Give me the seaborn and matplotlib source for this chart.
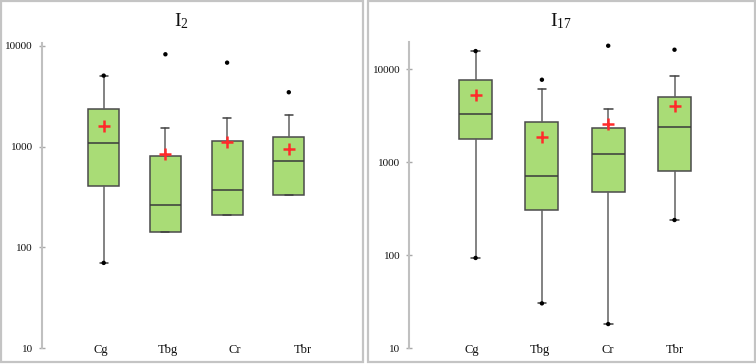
import numpy as np
import seaborn as sns
import matplotlib.pyplot as plt
from matplotlib.patches import Rectangle
from matplotlib.ticker import FixedLocator, FuncFormatter, NullLocator

# categorias
grupos = ["Cg", "Tbg", "Cr", "Tbr"]

# I2: estadisticos
i2_min = [70, 143, 211, 329]
i2_q1 = [404, 143, 211, 329]
i2_med = [1096, 261, 374, 721]
i2_q3 = [2380, 807, 1148, 1257]
i2_max = [5070, 1546, 1928, 2080]
i2_media = [1592, 851, 1122, 942]
i2_atipicos = [[], [8260], [6820], [3467]]

# I17
i17_min = [93, 30.2, 18.1, 238]
i17_q1 = [1754, 302, 472, 800]
i17_med = [3311, 706, 1220, 2361]
i17_q3 = [7550, 2674, 2339, 5000]
i17_max = [15620, 6150, 3714, 8480]
i17_media = [5250, 1873, 2540, 4000]
i17_atipicos = [[], [7680], [17820], [16150]]

W, H = 756, 364
sns.set_style("white")
plt.rcParams['font.family'] = ['Liberation Serif', 'DejaVu Serif']
plt.rcParams['mathtext.fontset'] = 'stix'

fig = plt.figure(figsize=(W / 100, H / 100), dpi=100)


def caja(rect, titulo, tcx, mn, q1, med, q3, mx, media, atip, ytop, paso_etq):
    x0, y0, x1, y1 = rect
    ax = fig.add_axes([x0 / W, 1 - y1 / H, (x1 - x0) / W, (y1 - y0) / H])
    stats = []
    for i in range(len(grupos)):
        stats.append(dict(whislo=mn[i], q1=q1[i], med=med[i], q3=q3[i],
                          whishi=mx[i], fliers=[], label=grupos[i]))
    pos = np.arange(len(grupos))
    ax.bxp(stats, positions=pos, widths=0.5, patch_artist=True,
           showfliers=False, capwidths=0.13,
           boxprops=dict(facecolor="#a9dc76", edgecolor="#4a4a4a", linewidth=1.1),
           medianprops=dict(color="#3a3a3a", linewidth=1.1),
           whiskerprops=dict(color="#606060", linewidth=1.1),
           capprops=dict(color="#404040", linewidth=1.1))

    # puntos: atipicos y extremos
    px, py = [], []
    for i in range(len(grupos)):
        for v in atip[i]:
            px.append(i)
            py.append(v)
        if not any(v > q3[i] for v in atip[i]):
            px.append(i)
            py.append(mx[i])
        if mn[i] < q1[i]:
            px.append(i)
            py.append(mn[i])
    sns.scatterplot(x=px, y=py, ax=ax, color="black", s=10, marker="o",
                    edgecolor="none", zorder=4)
    sns.scatterplot(x=pos, y=media, ax=ax, color="#ff2b2b", s=70, marker="+",
                    linewidth=1.8, zorder=5)

    ax.set_yscale("log")
    ax.set_ylim(10, ytop)
    ax.set_xlim(-1, 4)
    ax.yaxis.set_major_locator(FixedLocator([10, 100, 1000, 10000]))
    ax.yaxis.set_minor_locator(NullLocator())
    ax.yaxis.set_major_formatter(FuncFormatter(lambda v, p: f"{int(v)}"))
    ax.tick_params(axis="y", left=True, direction="inout", length=5, width=1,
                   color="#a8a8a8", labelsize=8, pad=4, labelcolor="#111111")
    ax.set_xticks(pos * paso_etq - 0.05, grupos)
    ax.tick_params(axis="x", bottom=False, length=0, labelsize=9, pad=-3,
                   labelcolor="#111111")
    for s in ["top", "right", "bottom"]:
        ax.spines[s].set_visible(False)
    ax.spines["left"].set_color("#c0c0c0")
    ax.spines["left"].set_linewidth(1.5)
    fig.text(tcx / W, 1 - 21 / H, titulo, ha="center", va="center",
             fontsize=14, color="#111111")
    return ax


caja((42, 43, 350.5, 348), r"$\mathregular{I_2}$", 181,
     i2_min, i2_q1, i2_med, i2_q3, i2_max, i2_media, i2_atipicos, 10690, 1.09)
caja((409.3, 41.7, 740.8, 348), r"$\mathregular{I_{17}}$", 561,
     i17_min, i17_q1, i17_med, i17_q3, i17_max, i17_media, i17_atipicos, 19700, 1.02)

# marcos de cada panel
for bx0, bx1 in [(1, 363), (368, 755)]:
    fig.add_artist(Rectangle((bx0 / W, 1 - 362 / H), (bx1 - bx0) / W, 361 / H,
                             transform=fig.transFigure, fill=False,
                             edgecolor="#c4c4c4", linewidth=1.6))

fig.savefig("out.png", dpi=100)
